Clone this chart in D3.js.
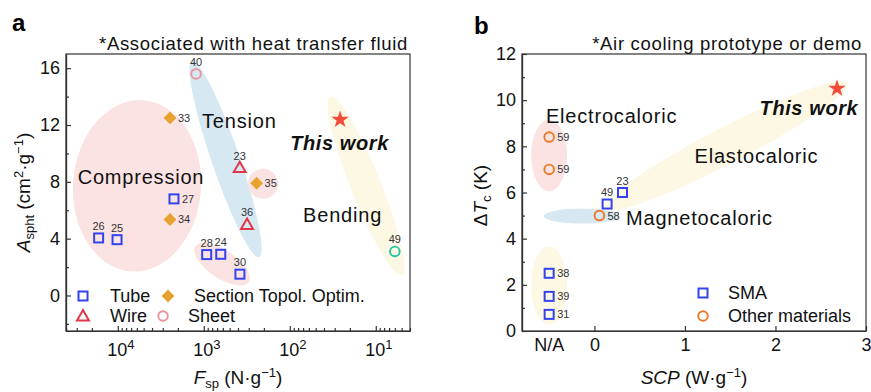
<!DOCTYPE html>
<meta charset="utf-8">
<style>
  body { margin: 0; background: #fff; }
  svg { font-family: Arial, "Liberation Sans", sans-serif; }
  .ax path, .ax line { stroke: #333; stroke-width: 1.2; }
  .ax text { font-size: 18px; fill: #111; font-family: Arial, "Liberation Sans", sans-serif; }
  .tick-lab { font-size: 18px; fill: #111; }
  .ref { font-size: 11px; fill: #333; }
  .region { font-size: 20px; fill: #111; letter-spacing: 0.8px; }
  .tw { font-size: 20px; font-weight: bold; font-style: italic; fill: #111; letter-spacing: 0.6px; }
  .leg { font-size: 18px; fill: #111; }
  .note { font-size: 18.5px; fill: #111; letter-spacing: 0.7px; }
</style>

<body>
  <svg width="871" height="392"></svg>

  <script src="https://cdn.jsdelivr.net/npm/d3@7"></script>
  <script>
    // panel a : specific force vs specific heat transfer area
    var aRef = ["40", "33", "27", "34", "26", "25", "28", "24", "30", "36", "23", "35", "49", ""];
    var aType = ["sheet", "section", "tube", "section", "tube", "tube", "tube", "tube", "tube", "wire", "wire", "section", "bend", "star"];
    var aFsp = [1230, 2470, 2220, 2470, 16700, 10200, 925, 635, 380, 314, 382, 243, 6.0, 26];
    var aAspht = [15.6, 12.5, 6.8, 5.35, 4.05, 3.93, 2.88, 2.9, 1.5, 5.0, 9.0, 7.9, 3.1, 12.45];
    var aSide = ["top", "right", "right", "right", "top", "top", "top", "top", "top", "top", "top", "right", "top", ""];
    var aXTicks = [1e4, 1e3, 1e2, 1e1];
    var aYTicks = [0, 4, 8, 12, 16];

    // panel b : specific cooling power vs temperature span
    var NA = -0.5;
    var bRef = ["59", "59", "23", "49", "58", "38", "39", "31", ""];
    var bType = ["other", "other", "sma", "sma", "other", "sma", "sma", "sma", "star"];
    var bSCP = [NA, NA, 0.31, 0.14, 0.055, NA, NA, NA, 2.68];
    var bDTc = [8.4, 7.0, 6.0, 5.5, 5.0, 2.5, 1.5, 0.72, 10.55];
    var bSide = ["right", "right", "top", "top", "right", "right", "right", "right", ""];
    var bXTicks = [0, 1, 2, 3];
    var bYTicks = [0, 2, 4, 6, 8, 10, 12];

    // shaded groups: centre, tip of long axis (data units), half width (px)
    var aRegions = [
      { cx: 5970, cy: 7.72, tx: 5090, ty: 13.75, w: 64, fill: "#fbe3e3" },
      { cx: 558, cy: 9.6, tx: 1371, ty: 16.5, w: 14, fill: "#d6e8f2" },
      { cx: 614, cy: 2.2, tx: 300, ty: 0.95, w: 14, fill: "#fbe3e3" },
      { cx: 205, cy: 7.86, tx: 137, ty: 7.86, w: 15, fill: "#fbe3e3" },
      { cx: 13, cy: 7.72, tx: 34, ty: 14.0, w: 15, fill: "#fcf8e3" }
    ];
    var bRegions = [
      { cx: NA, cy: 7.6, tx: NA, ty: 9.15, w: 18, fill: "#fbe3e3" },
      { cx: NA, cy: 1.97, tx: NA, ty: 3.66, w: 18, fill: "#fcf8e3" },
      { cx: -0.14, cy: 4.98, tx: -0.56, ty: 4.98, w: 7.5, fill: "#d6e8f2" },
      { cx: 1.45, cy: 8.02, tx: 2.79, ty: 10.74, w: 18, fill: "#fcf8e3" }
    ];
    var aNotes = [
      { t: "Compression", x: 5370, y: 7.86, c: "region" },
      { t: "Tension", x: 386, y: 11.79, c: "region" },
      { t: "This work", x: 26.4, y: 10.25, c: "tw" },
      { t: "Bending", x: 24.3, y: 5.19, c: "region" }
    ];
    var bNotes = [
      { t: "Electrocaloric", x: 0.19, y: 9.03, c: "region" },
      { t: "This work", x: 2.37, y: 9.36, c: "tw" },
      { t: "Elastocaloric", x: 1.79, y: 7.29, c: "region" },
      { t: "Magnetocaloric", x: 1.16, y: 4.61, c: "region" }
    ];

    var colors = {
      tube: "#3344ee", sma: "#3344ee", section: "#e8a22f", wire: "#e0384a",
      sheet: "#e8929c", bend: "#22c4a4", other: "#ec7a26", star: "#f44a38"
    };

    var svg = d3.select("svg");
    var W = 344, H = 277;

    var ga = svg.append("g").attr("transform", "translate(66,54)");
    var gb = svg.append("g").attr("transform", "translate(522,54)");

    var xa = d3.scaleLog().domain([40000, 4]).range([0, W]);
    var ya = d3.scaleLinear().domain([-2.5, 17]).range([H, 0]);
    var xb = d3.scaleLinear().domain([-0.8, 3]).range([0, W]);
    var yb = d3.scaleLinear().domain([0, 12]).range([H, 0]);

    function regions(g, x, y, list) {
      list.forEach(function(e) {
        var cx = x(e.cx), cy = y(e.cy), tx = x(e.tx), ty = y(e.ty);
        var rx = Math.hypot(tx - cx, ty - cy);
        var ang = Math.atan2(ty - cy, tx - cx) * 180 / Math.PI;
        g.append("ellipse")
          .attr("rx", rx).attr("ry", e.w)
          .attr("transform", "translate(" + cx + "," + cy + ") rotate(" + ang + ")")
          .attr("fill", e.fill);
      });
    }

    function marker(g, type, px, py) {
      var c = colors[type];
      if (type == "tube" || type == "sma") {
        g.append("rect").attr("x", px - 4.5).attr("y", py - 4.5)
          .attr("width", 9).attr("height", 9)
          .attr("fill", "none").attr("stroke", c).attr("stroke-width", 2);
      } else if (type == "sheet" || type == "bend" || type == "other") {
        g.append("circle").attr("cx", px).attr("cy", py).attr("r", 4.8)
          .attr("fill", "none").attr("stroke", c).attr("stroke-width", 1.9);
      } else if (type == "section") {
        g.append("path").attr("d", d3.symbol(d3.symbolSquare, 82)())
          .attr("transform", "translate(" + px + "," + py + ") rotate(45)")
          .attr("fill", c);
      } else if (type == "wire") {
        g.append("path").attr("d", d3.symbol(d3.symbolTriangle, 62)())
          .attr("transform", "translate(" + px + "," + (py + 1) + ")")
          .attr("fill", "none").attr("stroke", c).attr("stroke-width", 2);
      } else if (type == "star") {
        g.append("path").attr("d", d3.symbol(d3.symbolStar, 95)())
          .attr("transform", "translate(" + px + "," + (py + 1) + ")")
          .attr("fill", c);
      }
    }

    function points(g, x, y, xs, ys, types, refs, sides) {
      xs.forEach(function(v, i) {
        var px = x(v), py = y(ys[i]);
        marker(g, types[i], px, py);
        if (sides[i] == "top") {
          g.append("text").attr("class", "ref").attr("x", px).attr("y", py - 8)
            .attr("text-anchor", "middle").text(refs[i]);
        } else if (sides[i] == "right") {
          g.append("text").attr("class", "ref").attr("x", px + 8).attr("y", py + 4).text(refs[i]);
        }
      });
    }

    function notes(g, x, y, list) {
      list.forEach(function(n) {
        g.append("text").attr("class", n.c).attr("x", x(n.x)).attr("y", y(n.y))
          .attr("text-anchor", "middle").text(n.t);
      });
    }

    // rich text: parts = [text, kind]
    function rich(sel, parts, small) {
      var shift = 0;
      parts.forEach(function(p) {
        var t = sel.append("tspan").text(p[0]);
        var want = p[1] == "sub" ? 4 : p[1] == "sup" ? -7 : 0;
        t.attr("dy", want - shift);
        shift = want;
        if (p[1] == "sub" || p[1] == "sup") t.style("font-size", (small || 13) + "px");
        if (p[1] == "it") t.style("font-style", "italic");
      });
    }

    function frame(g) {
      g.append("rect").attr("width", W).attr("height", H)
        .attr("fill", "none").attr("stroke", "#333").attr("stroke-width", 1.2);
    }

    // ---------- panel a ----------
    regions(ga, xa, ya, aRegions);
    notes(ga, xa, ya, aNotes);
    points(ga, xa, ya, aFsp, aAspht, aType, aRef, aSide);

    var aMinor = [];
    for (var e = 0; e < 5; e++)
      for (var m = 2; m < 10; m++) {
        var v = m * Math.pow(10, e);
        if (v >= 4 && v <= 40000) aMinor.push(v);
      }

    ga.append("g").attr("class", "ax").attr("transform", "translate(0," + H + ")")
      .call(d3.axisBottom(xa).tickValues(aMinor).tickSizeInner(-3).tickSizeOuter(0).tickFormat(""));
    ga.append("g").attr("class", "ax").attr("transform", "translate(0," + H + ")")
      .call(d3.axisBottom(xa).tickValues(aXTicks).tickSizeInner(-5).tickSizeOuter(0).tickFormat(""));
    aXTicks.forEach(function(d) {
      rich(ga.append("text").attr("class", "tick-lab").attr("x", xa(d) + 3).attr("y", H + 25)
          .attr("text-anchor", "middle"),
        [["10", ""], [String(Math.round(Math.log10(d))), "sup"]], 13);
    });
    ga.append("g").attr("class", "ax")
      .call(d3.axisLeft(ya).tickValues([-2, 2, 6, 10, 14]).tickSizeInner(-3).tickSizeOuter(0).tickFormat(""));
    ga.append("g").attr("class", "ax")
      .call(d3.axisLeft(ya).tickValues(aYTicks).tickSizeInner(-5).tickSizeOuter(0).tickPadding(6));
    frame(ga);

    // legend a
    marker(ga, "tube", 17, 242);
    marker(ga, "section", 102, 242);
    marker(ga, "wire", 17, 262);
    marker(ga, "sheet", 97, 262);
    ga.append("text").attr("class", "leg").attr("x", 44).attr("y", 248).text("Tube");
    ga.append("text").attr("class", "leg").attr("x", 128).attr("y", 248).text("Section Topol. Optim.");
    ga.append("text").attr("class", "leg").attr("x", 44).attr("y", 268).text("Wire");
    ga.append("text").attr("class", "leg").attr("x", 122).attr("y", 268).text("Sheet");

    // ---------- panel b ----------
    regions(gb, xb, yb, bRegions);
    notes(gb, xb, yb, bNotes);
    points(gb, xb, yb, bSCP, bDTc, bType, bRef, bSide);

    gb.append("g").attr("class", "ax").attr("transform", "translate(0," + H + ")")
      .call(d3.axisBottom(xb).tickValues(bXTicks).tickSizeInner(-5).tickSizeOuter(0)
        .tickPadding(7).tickFormat(d3.format("d")));
    gb.append("text").attr("class", "tick-lab").attr("x", xb(NA)).attr("y", H + 20)
      .attr("text-anchor", "middle").text("N/A");
    gb.append("g").attr("class", "ax")
      .call(d3.axisLeft(yb).tickValues([1, 3, 5, 7, 9, 11]).tickSizeInner(-3).tickSizeOuter(0).tickFormat(""));
    gb.append("g").attr("class", "ax")
      .call(d3.axisLeft(yb).tickValues(bYTicks).tickSizeInner(-5).tickSizeOuter(0).tickPadding(6));
    frame(gb);

    // legend b
    marker(gb, "sma", 181, 239);
    marker(gb, "other", 181, 262);
    gb.append("text").attr("class", "leg").attr("x", 206).attr("y", 245).text("SMA");
    gb.append("text").attr("class", "leg").attr("x", 206).attr("y", 268).text("Other materials");

    // ---------- titles and labels ----------
    svg.append("text").attr("x", 12).attr("y", 31).style("font-size", "24px").style("font-weight", "bold").text("a");
    svg.append("text").attr("x", 474).attr("y", 34).style("font-size", "24px").style("font-weight", "bold").text("b");

    svg.append("text").attr("class", "note").attr("x", 66 + W - 2).attr("y", 50).attr("text-anchor", "end")
      .text("*Associated with heat transfer fluid");
    svg.append("text").attr("class", "note").attr("x", 522 + W - 4).attr("y", 50).attr("text-anchor", "end")
      .text("*Air cooling prototype or demo");

    rich(svg.append("text").attr("x", 66 + W / 2).attr("y", 384).attr("text-anchor", "middle")
        .style("font-size", "19px").attr("fill", "#111"),
      [["F", "it"], ["sp", "sub"], [" (N·g", ""], ["−1", "sup"], [")", ""]]);
    rich(svg.append("text").attr("transform", "translate(30," + (54 + H / 2) + ") rotate(-90)")
        .attr("text-anchor", "middle").style("font-size", "19px").attr("fill", "#111"),
      [["A", "it"], ["spht", "sub"], [" (cm", ""], ["2", "sup"], ["·g", ""], ["−1", "sup"], [")", ""]]);
    rich(svg.append("text").attr("x", 522 + W / 2).attr("y", 384).attr("text-anchor", "middle")
        .style("font-size", "19px").attr("fill", "#111"),
      [["SCP", "it"], [" (W·g", ""], ["−1", "sup"], [")", ""]]);
    rich(svg.append("text").attr("transform", "translate(487," + (54 + H / 2 + 3) + ") rotate(-90)")
        .attr("text-anchor", "middle").style("font-size", "19px").attr("fill", "#111"),
      [["Δ", ""], ["T", "it"], ["c", "sub"], [" (K)", ""]]);
  </script>
</body>
